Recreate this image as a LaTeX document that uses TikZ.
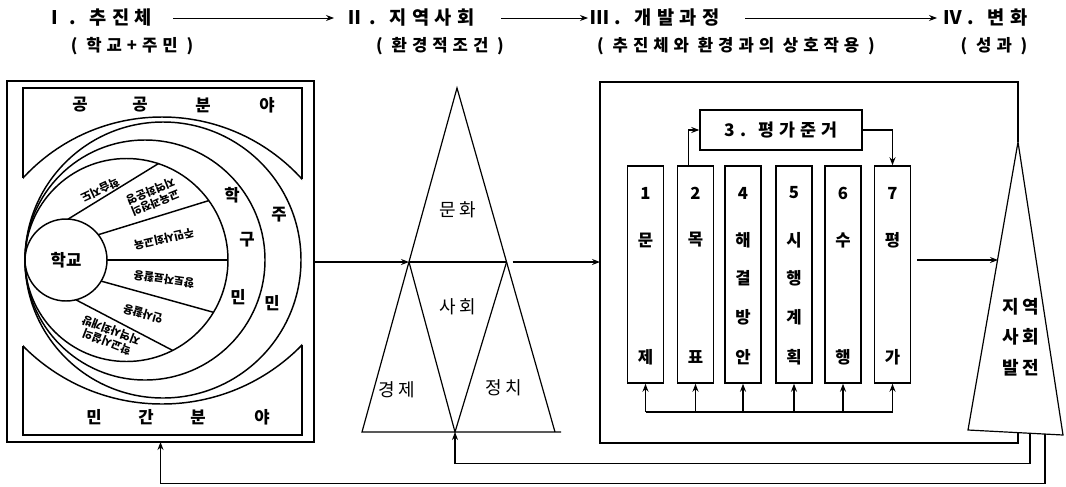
\documentclass[tikz,border=0pt]{standalone}
\usepackage{fontspec}
\setmainfont{Noto Sans CJK KR}
\newfontfamily\spfont{Noto Sans CJK KR}[LetterSpace=30]
\newfontfamily\spfontb{Noto Sans CJK KR}[LetterSpace=18]
\usetikzlibrary{arrows.meta,fit}
\tikzset{
 hdr/.style={font=\spfont\bfseries\fontsize{14}{15}\selectfont, inner sep=0pt},
 sub/.style={font=\spfont\bfseries\fontsize{12.5}{14}\selectfont, inner sep=0pt},
 lbl/.style={font=\bfseries\fontsize{12.5}{14}\selectfont, inner sep=0pt},
 sec/.style={font=\bfseries\fontsize{8.3}{9.3}\selectfont, inner sep=0pt, align=center},
 tri/.style={font=\spfontb\fontsize{13.5}{15}\selectfont, inner sep=0pt},
 colbox/.style={draw, line width=1.1pt, minimum width=27pt, minimum height=162.75pt, inner sep=0pt},
 coltxt/.style={font=\bfseries\fontsize{12.5}{14}\selectfont, inner sep=0pt},
 ln/.style={line width=1.1pt},
 arr/.style={-{Stealth[length=6pt,width=4.5pt]}, line width=0.9pt},
 harr/.style={-{Stealth[length=6pt,width=4.5pt]}, line width=0.7pt},
}
\begin{document}
\begin{tikzpicture}[x=0.75pt,y=-0.75pt]
\useasboundingbox (0,0) rectangle (1066,486);
% ---------- headers
\node[hdr, anchor=west] (h1) at (45,18) {Ⅰ. 추진체};
\node[hdr, anchor=west] (h2) at (345,18) {Ⅱ. 지역사회};
\node[hdr, anchor=west] (h3) at (590,18) {Ⅲ. 개발과정};
\node[hdr, anchor=west] (h4) at (943,18) {Ⅳ. 변화};
\coordinate (a1s) at (173,18); \coordinate (a1e) at (334,18);
\coordinate (a2s) at (501,18); \coordinate (a2e) at (588,18);
\coordinate (a3s) at (745,18); \coordinate (a3e) at (937,18);
\draw[harr] (a1s) -- (a1e);
\draw[harr] (a2s) -- (a2e);
\draw[harr] (a3s) -- (a3e);
\node[sub] (s1h) at (132,46) {( 학교+주민 )};
\node[sub] (s2h) at (440,46) {( 환경적조건 )};
\node[sub] (s3h) at (736,46) {( 추진체와 환경과의 상호작용 )};
\node[sub] (s4h) at (994,46) {( 성과 )};
% ---------- left box
\node[fit={(7,81)(314,442)}, inner sep=0pt, outer sep=0pt, draw, line width=1.4pt] (L) {};
\draw[ln] (23,178) -- (23,88) -- (302,88) -- (302,179);
\begin{scope}
 \clip (23,80) rectangle (302,200);
 \draw[ln] (162,305.9) circle[radius=188.9];
\end{scope}
\draw[ln] (23,346) -- (23,435) -- (302,435) -- (302,345);
\begin{scope}
 \clip (23,330) rectangle (302,440);
 \draw[ln] (162,208.4) circle[radius=195.6];
\end{scope}
\node[lbl] (pu1) at (80,105) {공};
\node[lbl] (pu2) at (140,105) {공};
\node[lbl] (pu3) at (203,105) {분};
\node[lbl] (pu4) at (267,105) {야};
\node[lbl] (pr1) at (94,417) {민};
\node[lbl] (pr2) at (146,417) {간};
\node[lbl] (pr3) at (198,417) {분};
\node[lbl] (pr4) at (262,417) {야};
% circles
\coordinate (c2) at (126.5,260);
\draw[ln] (163,260) circle[radius=138];
\draw[ln] (145,260) circle[radius=120];
\draw[ln] (c2) circle[radius=101.5];
\node[circle, draw, line width=1.1pt, minimum size=61.5pt, inner sep=0pt, outer sep=0pt,
      font=\bfseries\fontsize{12.5}{14}\selectfont] (school) at (66,260) {학교};
\coordinate (pA1) at (68.1,219.1);  \coordinate (pA2) at (158.4,163.6);
\coordinate (pB1) at (98.3,234.7);  \coordinate (pB2) at (208.8,200.6);
\coordinate (pC1) at (107,260);     \coordinate (pC2) at (228,260);
\coordinate (pD1) at (101.1,281.1); \coordinate (pD2) at (213.5,312.3);
\coordinate (pE1) at (75.9,299.8);  \coordinate (pE2) at (172.6,350.4);
\draw[ln] (pA1) -- (pA2);
\draw[ln] (pB1) -- (pB2);
\draw[ln] (pC1) -- (pC2);
\draw[ln] (pD1) -- (pD2);
\draw[ln] (pE1) -- (pE2);
\node[sec, rotate=205] (sc1) at (100,190) {학습지도};
\node[sec, rotate=202] (sc2) at (153,197) {교육과정의\\지역화운영};
\node[sec, rotate=193] (sc3) at (164,239) {주민사회교육};
\node[sec, rotate=172] (sc4) at (164,279) {향토자료활용};
\node[sec, rotate=164] (sc5) at (143,314) {인사활용};
\node[sec, rotate=159] (sc6) at (109,336) {학교시설의\\지역사회개방};
\node[lbl] (r1a) at (232,195) {학};
\node[lbl] (r1b) at (247,240) {구};
\node[lbl] (r1c) at (238,297) {민};
\node[lbl] (r2a) at (279,215) {주};
\node[lbl] (r2b) at (272,303) {민};
% ---------- middle triangles
\coordinate (tA) at (457,88);
\coordinate (tBL) at (362,432);
\coordinate (tBR) at (555,432);
\coordinate (tBE) at (561,432);
\coordinate (tm1) at (409,262);
\coordinate (tm2) at (506.6,262);
\coordinate (tB) at (455,432);
\draw[line width=0.9pt] (tBR) -- (tA) -- (tBL) -- (tBE);
\draw[line width=0.9pt] (tm1) -- (tm2);
\draw[line width=0.9pt] (tm1) -- (tB) -- (tm2);
\node[tri] (cul) at (458,210) {문화};
\node[tri] (soc) at (458,307) {사회};
\node[tri] (eco) at (397,390) {경제};
\node[tri] (pol) at (504,388) {정치};
\draw[arr] (L.east |- tm1) -- (tm1);
% ---------- right box
\coordinate (rTL) at (600,82);
\coordinate (rTR) at (1018,82);
\coordinate (t2a) at (1018,142);
\coordinate (t2l) at (968,430);
\coordinate (t2r) at (1063,435);
\coordinate (t2b) at (1018,432.6);
\coordinate (rBL) at (600,443);
\coordinate (rBR) at (1018,443);
\draw[ln] (t2a) -- (rTR) -- (rTL) -- (rBL) -- (rBR) -- (t2b);
\draw[line width=0.9pt] (t2a) -- (t2l) -- (t2r) -- cycle;
\node[font=\spfontb\bfseries\fontsize{13.5}{23}\selectfont, align=center, inner sep=0pt] (dev) at (1021,337) {지역\\사회\\발전};
\draw[arr] ([xshift=4.5pt]tm2) -- (tm2 -| rTL);
% evaluation box
\node[draw, line width=1.1pt, minimum width=121.5pt, minimum height=30pt, inner sep=0pt,
      font=\spfont\bfseries\fontsize{13}{14}\selectfont] (pg) at (781,130) {3. 평가준거};
% columns
\node[colbox] (b1) at (645.5,274.5) {};
\node[colbox] (b2) at (695.5,274.5) {};
\node[colbox] (b4) at (743,274.5) {};
\node[colbox] (b5) at (794,274.5) {};
\node[colbox] (b6) at (843,274.5) {};
\node[colbox] (b7) at (892.5,274.5) {};
\node[coltxt] (b1n) at (645.5,193) {1};
\node[coltxt] (b1a) at (645.5,240) {문};
\node[coltxt] (b1b) at (645.5,357) {제};
\node[coltxt] (b2n) at (695.5,193) {2};
\node[coltxt] (b2a) at (695.5,240) {목};
\node[coltxt] (b2b) at (695.5,357) {표};
\node[coltxt] (b4n) at (743,193) {4};
\node[coltxt] (b4a) at (743,240) {해};
\node[coltxt] (b4b) at (743,278) {결};
\node[coltxt] (b4c) at (743,317) {방};
\node[coltxt] (b4d) at (743,357) {안};
\node[coltxt] (b5n) at (794,193) {5};
\node[coltxt] (b5a) at (794,240) {시};
\node[coltxt] (b5b) at (794,278) {행};
\node[coltxt] (b5c) at (794,317) {계};
\node[coltxt] (b5d) at (794,357) {획};
\node[coltxt] (b6n) at (843,193) {6};
\node[coltxt] (b6a) at (843,240) {수};
\node[coltxt] (b6b) at (843,357) {행};
\node[coltxt] (b7n) at (892.5,193) {7};
\node[coltxt] (b7a) at (892.5,240) {평};
\node[coltxt] (b7b) at (892.5,357) {가};
\draw[arr] ([xshift=-5.25pt]b2.north) |- (pg.west);
\draw[arr] (pg.east) -| (b7.north);
\coordinate (bus1) at (645.5,412);
\coordinate (bus7) at (892.5,412);
\draw[ln] (bus1) -- (bus7);
\foreach \b in {b1,b2,b4,b5,b6,b7} \draw[arr] (\b.south |- bus1) -- (\b.south);
\coordinate (t2in) at (998,260);
\draw[arr] ([xshift=4.5pt]b7.east |- t2in) -- (t2in);
% ---------- feedback
\coordinate (f1a) at (1030,433.3);
\coordinate (f2a) at (1045,434.1);
\draw[arr] (f1a) -- ++(0,30) -| (tB);
\draw[arr] (f2a) -- ++(0,49) -| (L.south);
\end{tikzpicture}
\end{document}
